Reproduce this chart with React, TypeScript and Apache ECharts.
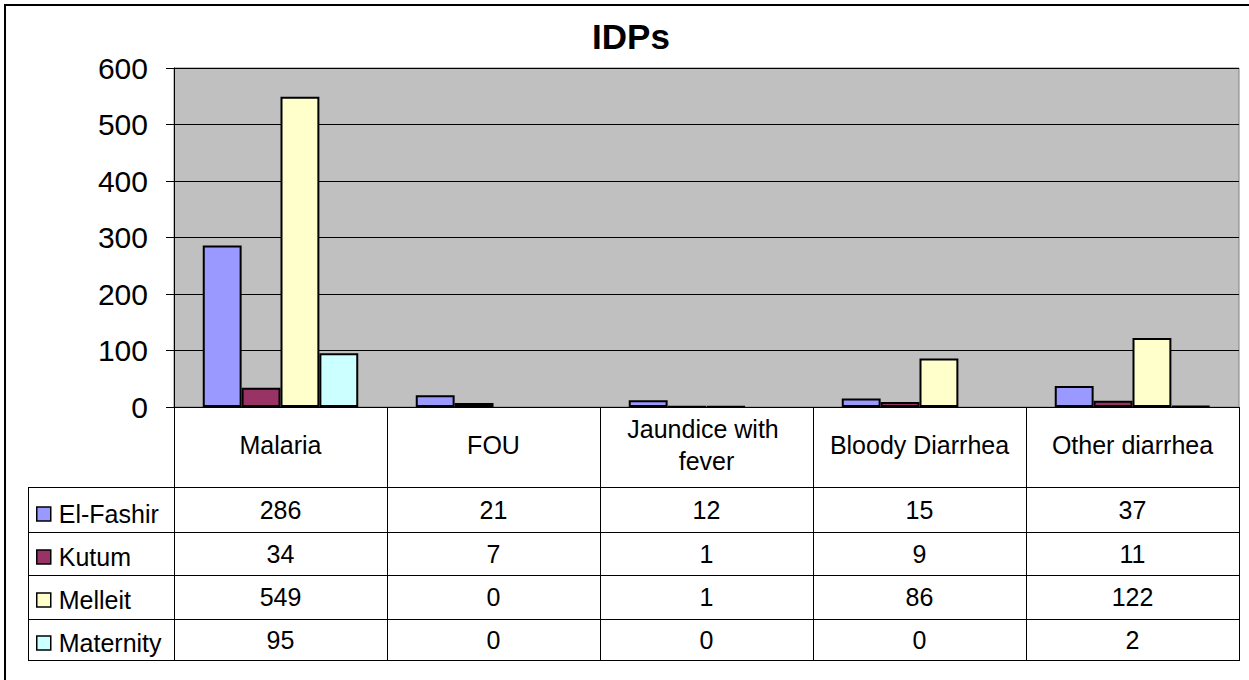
import React, { useEffect, useRef } from "react";
import * as echarts from "echarts";

const title = "IDPs";
const categories = ["Malaria", "FOU", "Jaundice with fever", "Bloody Diarrhea", "Other diarrhea"];
const seriesNames = ["El-Fashir", "Kutum", "Melleit", "Maternity"];
const elFashir = [286, 21, 12, 15, 37];
const kutum = [34, 7, 1, 9, 11];
const melleit = [549, 0, 1, 86, 122];
const maternity = [95, 0, 0, 0, 2];
const yMin = 0;
const yMax = 600;
const yInterval = 100;

const seriesValues = [elFashir, kutum, melleit, maternity];
const seriesColors = ["#9999FF", "#993366", "#FFFFCC", "#CCFFFF"];

// layout
const W = 1249;
const H = 680;
const PLOT_LEFT = 174;
const PLOT_RIGHT = 1239;
const PLOT_TOP = 68;
const PLOT_BOTTOM = 407;
const HEADER_BOTTOM = 487;
const ROW_LINES = [487, 532, 575, 619, 660];
const LEGEND_LEFT = 28;
const FONT = "'Liberation Sans', Arial, Helvetica, sans-serif";

export default function App() {
  const ref = useRef<HTMLDivElement>(null);

  useEffect(() => {
    document.body.style.margin = "0";
    if (!ref.current) return;
    const chart = echarts.init(ref.current, undefined, { renderer: "svg" });
    const colW = (PLOT_RIGHT - PLOT_LEFT) / categories.length;

    const rowCenters = ROW_LINES.slice(0, -1).map((y, i) => (y + ROW_LINES[i + 1]) / 2);

    const graphics: any[] = [];
    // outer border
    graphics.push({
      type: "rect",
      shape: { x: 5, y: 5, width: W + 40, height: H + 40 },
      style: { fill: "none", stroke: "#000", lineWidth: 2 },
      silent: true,
    });
    graphics.push({
      type: "text",
      x: 631,
      y: 36,
      style: {
        text: title,
        font: `bold 35px ${FONT}`,
        fill: "#000",
        textAlign: "center",
        textVerticalAlign: "middle",
      },
    });
    // vertical table lines
    for (let i = 0; i <= categories.length; i++) {
      const x = Math.round(PLOT_LEFT + i * colW) + 0.5;
      graphics.push({
        type: "line",
        shape: { x1: x, y1: PLOT_BOTTOM, x2: x, y2: ROW_LINES[ROW_LINES.length - 1] },
        style: { stroke: "#000", lineWidth: 1 },
        silent: true,
      });
    }
    graphics.push({
      type: "line",
      shape: { x1: LEGEND_LEFT + 0.5, y1: HEADER_BOTTOM, x2: LEGEND_LEFT + 0.5, y2: ROW_LINES[ROW_LINES.length - 1] },
      style: { stroke: "#000", lineWidth: 1 },
      silent: true,
    });
    ROW_LINES.forEach((y) => {
      graphics.push({
        type: "line",
        shape: { x1: LEGEND_LEFT, y1: y + 0.5, x2: PLOT_RIGHT + 1, y2: y + 0.5 },
        style: { stroke: "#000", lineWidth: 1 },
        silent: true,
      });
    });

    const rowAxes = seriesValues.map((vals, r) => ({
      type: "category",
      gridIndex: 0,
      position: "bottom",
      data: categories,
      axisLine: { show: false },
      axisTick: { show: false },
      splitLine: { show: false },
      axisLabel: {
        interval: 0,
        margin: rowCenters[r] - PLOT_BOTTOM,
        verticalAlign: "middle",
        color: "#000",
        fontSize: 25,
        fontFamily: FONT,
        formatter: (_v: string, i: number) => String(vals[i]),
      },
    }));

    chart.setOption({
      animation: false,
      backgroundColor: "#fff",
      textStyle: { fontFamily: FONT },
      graphic: graphics,
      legend: {
        data: seriesNames,
        orient: "vertical",
        left: 36,
        top: 498,
        padding: 0,
        itemGap: 11,
        itemWidth: 14,
        itemHeight: 14,
        icon: "rect",
        selectedMode: false,
        itemStyle: { borderColor: "#000", borderWidth: 1.5 },
        textStyle: {
          color: "#000",
          fontSize: 25,
          fontFamily: FONT,
          lineHeight: 24,
          padding: [0, 0, 8, 3],
        },
      },
      grid: {
        left: PLOT_LEFT,
        right: W - PLOT_RIGHT,
        top: PLOT_TOP,
        bottom: H - PLOT_BOTTOM,
        show: true,
        backgroundColor: "#C0C0C0",
        borderColor: "#808080",
        borderWidth: 1,
      },
      xAxis: [
        {
          type: "category",
          data: categories,
          position: "bottom",
          axisLine: { show: true, lineStyle: { color: "#000", width: 1 } },
          axisTick: { show: false },
          axisLabel: {
            interval: 0,
            margin: 38,
            verticalAlign: "middle",
            color: "#000",
            fontSize: 25,
            fontFamily: FONT,
            lineHeight: 32,
            width: 190,
            overflow: "break",
          },
        },
        ...rowAxes,
      ],
      yAxis: {
        type: "value",
        min: yMin,
        max: yMax,
        interval: yInterval,
        axisLine: { show: true, lineStyle: { color: "#000", width: 1 } },
        axisTick: { show: true, length: 8, lineStyle: { color: "#000" } },
        axisLabel: { color: "#000", fontSize: 30, fontFamily: FONT, margin: 26 },
        splitLine: { show: true, lineStyle: { color: "#000", width: 1 } },
      },
      series: seriesNames.map((name, i) => ({
        name,
        type: "bar",
        xAxisIndex: 0,
        data: seriesValues[i].map((v) =>
          v === 0 ? { value: v, itemStyle: { borderWidth: 0 } } : v
        ),
        barGap: "0%",
        barCategoryGap: "27%",
        itemStyle: { color: seriesColors[i], borderColor: "#000", borderWidth: 2 },
      })),
    });

    return () => chart.dispose();
  }, []);

  return <div ref={ref} style={{ width: W, height: H }} />;
}
